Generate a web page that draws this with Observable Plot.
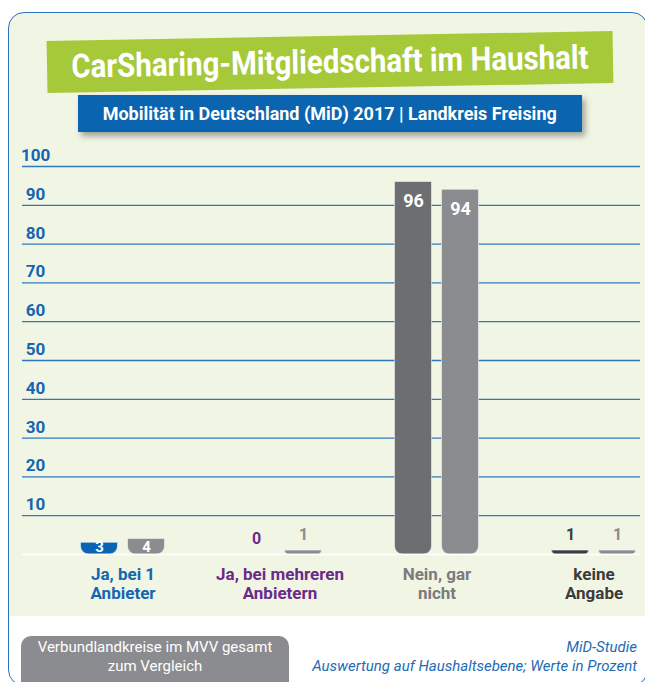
<!DOCTYPE html>
<html>
<head>
<meta charset="utf-8">
<script src="https://cdn.jsdelivr.net/npm/d3@7"></script>
<script src="https://cdn.jsdelivr.net/npm/@observablehq/plot@0.6"></script>
<style>
  body { margin: 0; width: 645px; height: 682px; overflow: hidden; background: #fff; position: relative;
         font-family: Roboto, "Liberation Sans", sans-serif; }
  #box { position: absolute; left: 8px; top: 12px; width: 640px; height: 674px; box-sizing: border-box;
         border: 1.5px solid #2a72bb; border-radius: 16px;
         background: linear-gradient(#f1f5e4 0, #f1f5e4 603px, #ffffff 603px); }
  #title { position: absolute; left: 47px; top: 36px; width: 566px; height: 52px; background: #a6c93a;
           transform: rotate(-1deg); color: #fff; font-weight: bold; font-size: 33px; line-height: 52px;
           display: flex; justify-content: center; white-space: nowrap; }
  #subtitle { position: absolute; left: 78px; top: 95px; width: 504px; height: 37px; background: #0b64b0;
              box-shadow: 3px 4px 6px rgba(0,0,0,0.35); color: #fff; font-weight: bold; font-size: 19px;
              line-height: 37px; display: flex; justify-content: center; white-space: nowrap; }
  .fit { display: inline-block; flex: none; transform-origin: center; }
  #chart { position: absolute; left: 0; top: 140px; }
  #legend { position: absolute; left: 21px; top: 636px; width: 268px; height: 60px; background: #8b8c8f;
            border-radius: 10px; color: #fff; font-size: 15px; line-height: 19px; text-align: center;
            padding-top: 2px; box-sizing: border-box; }
  #source { position: absolute; right: 8px; top: 638px; text-align: right; font-style: italic;
            color: #1d6cb5; font-size: 15px; line-height: 19px; }
</style>
</head>
<body>
<div id="box"></div>
<div id="title"><span class="fit" data-w="518">CarSharing-Mitgliedschaft im Haushalt</span></div>
<div id="subtitle"><span class="fit" data-w="454">Mobilität in Deutschland (MiD) 2017 | Landkreis Freising</span></div>
<div id="chart"></div>
<div id="legend">Verbundlandkreise im MVV gesamt<br>zum Vergleich</div>
<div id="source">MiD-Studie<br>Auswertung auf Haushaltsebene; Werte in Prozent</div>
<script>
const categories = ["Ja, bei 1 Anbieter", "Ja, bei mehreren Anbietern", "Nein, gar nicht", "keine Angabe"];
const categoryLabels = ["Ja, bei 1\nAnbieter", "Ja, bei mehreren\nAnbietern", "Nein, gar\nnicht", "keine\nAngabe"];
const series = ["Landkreis Freising", "Verbundlandkreise im MVV gesamt"];
const freisingValues = [3, 0, 96, 1];
const mvvValues = [4, 1, 94, 1];
const yTicks = [10, 20, 30, 40, 50, 60, 70, 80, 90, 100];
const categoryColors = ["#0b64b3", "#6b2b8e", "#6d6e72", "#3c3d40"];
const comparisonColor = "#8b8c90";
const labelColors = ["#1565b0", "#6a2a8a", "#7a7b7e", "#3b3b3b"];

const freising = categories.map((c, i) => ({category: c, series: series[0], value: freisingValues[i], color: categoryColors[i]}));
const mvv = categories.map((c, i) => ({category: c, series: series[1], value: mvvValues[i], color: comparisonColor}));

// fit condensed titles
document.querySelectorAll(".fit").forEach(el => {
  const w = el.getBoundingClientRect().width;
  el.style.transform = `scaleX(${(+el.dataset.w / w).toFixed(3)})`;
});

const font = 'Roboto, "Liberation Sans", sans-serif';
const barOpts = {x: "category", y: "value", fill: "color", insetLeft: 60, insetRight: 60, ry2: 8,
                 stroke: "#ffffff", strokeOpacity: 0.5, strokeWidth: 1};
const offset = 23.5;

function valueLabels(rows, dx) {
  return [
    Plot.text(rows.filter(d => d.value >= 10), {x: "category", y: "value", text: d => String(d.value), dx,
              dy: 19, fill: "#fff", fontWeight: "bold", fontSize: 18}),
    Plot.text(rows.filter(d => d.value >= 3 && d.value < 10), {x: "category", y: () => 0, text: d => String(d.value), dx,
              dy: -7, fill: "#fff", fontWeight: "bold", fontSize: 15}),
    Plot.text(rows.filter(d => d.value < 3), {x: "category", y: "value", text: d => String(d.value), dx,
              dy: -16, fill: "color", fontWeight: "bold", fontSize: 16})
  ];
}

const chart = Plot.plot({
  width: 645, height: 476,
  marginTop: 26, marginBottom: 62, marginLeft: 22, marginRight: 5,
  style: {background: "transparent", fontFamily: font, overflow: "visible"},
  x: {domain: categories, range: [43.5, 671.5], padding: 0, axis: null},
  y: {domain: [0, 100], axis: null},
  color: {type: "identity"},
  marks: [
    Plot.ruleY(yTicks, {y: d => d, stroke: "#2f78bd", strokeWidth: 1.3}),
    Plot.barY(freising, {...barOpts, dx: -offset}),
    Plot.barY(mvv, {...barOpts, dx: offset}),
    Plot.ruleY([0], {stroke: "#ffffff", strokeWidth: 1.5}),
    Plot.text(yTicks, {y: d => d, text: d => String(d), frameAnchor: "left", textAnchor: "middle", dx: 13, dy: -11,
                       fill: "#1565b0", fontWeight: "bold", fontSize: 17}),
    ...valueLabels(freising, -offset),
    ...valueLabels(mvv, offset),
    Plot.text(categories, {x: d => d, text: (d, i) => categoryLabels[i], fill: (d, i) => labelColors[i],
                       frameAnchor: "bottom", lineAnchor: "top", dy: 12, fontSize: 17, fontWeight: "bold", lineHeight: 1.12})
  ]
});
document.getElementById("chart").appendChild(chart);
</script>
</body>
</html>
